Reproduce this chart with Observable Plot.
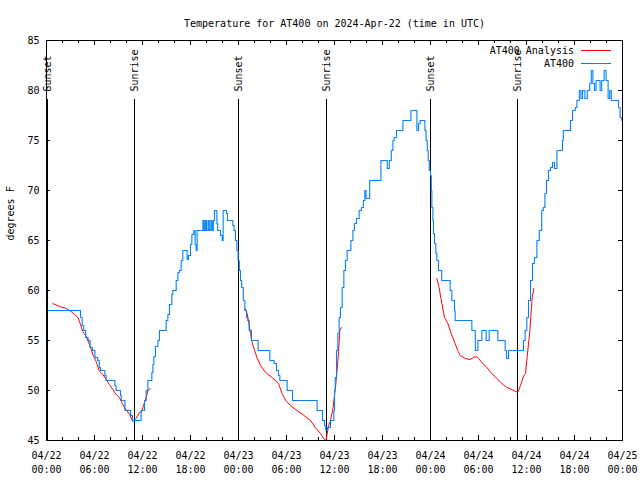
<!DOCTYPE html>
<html><head><meta charset="utf-8">
<script src="https://cdn.jsdelivr.net/npm/d3@7"></script>
<script src="https://cdn.jsdelivr.net/npm/@observablehq/plot@0.6"></script>
<style>body{margin:0;background:#fff} svg{display:block}</style>
</head><body><div id="chart"></div>
<script>
// hours since 2024-04-22 00:00 UTC, degrees F
const titleText = "Temperature for AT400 on 2024-Apr-22 (time in UTC)";
const yLabel = "degrees F";
const yTicks = [45, 50, 55, 60, 65, 70, 75, 80, 85];
const xTickHours = [0, 6, 12, 18, 24, 30, 36, 42, 48, 54, 60, 66, 72];
const xTickLabels = ["04/22\n00:00","04/22\n06:00","04/22\n12:00","04/22\n18:00",
  "04/23\n00:00","04/23\n06:00","04/23\n12:00","04/23\n18:00",
  "04/24\n00:00","04/24\n06:00","04/24\n12:00","04/24\n18:00","04/25\n00:00"];
const xMinorHours = d3.range(0, 73, 2);
const sunTimes = [0.15, 11.0, 24.0, 35.04, 48.0, 58.9];
const sunLabels = ["Sunset","Sunrise","Sunset","Sunrise","Sunset","Sunrise"];
const seriesNames = ["AT400 Analysis", "AT400"];
const seriesColors = ["#ff0000", "#0080ff"];

// AT400 observations [hour, temp]
const at400 = [
[0.17,58],[4.25,57.3],[4.45,56.5],[4.65,56],[4.9,55.3],[5.2,55],[5.45,54.3],[5.75,54],[6.05,53.3],[6.4,53],[6.6,52.3],[6.75,52],[7.3,51.5],[7.45,51],[8.55,50.5],[8.7,50],[9.25,49.5],[9.35,49],[9.8,48],[10.5,47.5],[10.75,47],
[11.83,48],[12.04,48],[12.25,49],[12.46,50],[12.67,51],[13.17,51.8],[13.3,52.6],[13.42,53.4],[13.62,54.4],[13.92,55],[14.12,56],[14.96,57],[15.17,57.6],[15.37,58.6],[15.67,59.6],[15.79,60],[16.21,61],[16.42,61.8],[16.62,62],[16.83,63],[17.04,64],[17.58,63.1],[17.75,63.5],[18.0,64.6],[18.17,65.6],[18.42,66],[18.58,64.6],[18.71,64],[18.83,66],
[19.55,67],[19.7,66],[19.85,67],[20.0,66],[20.2,67],[20.35,66],[20.55,67],[20.7,66],[20.85,67],[21.0,68],[21.3,66.7],[21.4,66],[21.75,65.5],[21.96,65],[22.08,68],[22.5,67.7],[22.62,67],[23.3,66.5],[23.45,66],[23.62,65],[23.8,64],[23.95,63],
[24.1,62],[24.25,61],[24.4,60.3],[24.6,59],[24.8,58],[25.0,57.3],[25.15,57],[25.33,56],[25.62,55],[26.46,54],[27.92,53],[28.45,52.7],[28.75,52],[29.0,51.5],[29.17,51],[30.08,50],[30.75,49],[33.83,48],[34.5,47],[34.75,46.5],[34.92,46],[35.15,46.3],[35.5,47],[35.92,48],[36.0,50],[36.1,51.3],[36.25,54],[36.42,55.7],[36.58,57.3],[36.75,58.3],[36.96,60.3],[37.17,62],[37.37,63],[37.58,64],[38.05,65],[38.3,66],[38.5,66.7],[38.75,67.2],[39.08,68],[39.37,68.3],[39.6,69],[39.79,70],[39.95,69.2],[40.4,71],[41.8,73],[42.6,72.2],[42.85,73],[43.1,74],[43.3,75],[43.45,75.3],[43.75,76],[44.55,77],[45.55,78],[46.3,76],[46.5,76.7],[46.7,77],[47.3,76],[47.45,75],[47.6,74],[47.72,73],[47.85,72],
[48.0,71.5],[48.1,70],[48.17,68.3],[48.3,67],[48.37,65.7],[48.5,64.7],[48.67,63.7],[48.8,63],[49.0,62],[49.4,61],[50.46,60],[50.67,59],[51.0,58],[51.08,57],[53.17,56],[53.6,54],[53.92,55],[54.42,56],[54.95,55],[55.33,56],[56.42,55],[57.33,54],[57.5,53.2],[57.75,54],[59.62,55],[59.83,56],[60.04,57.3],[60.25,59],[60.5,61],[60.75,62.7],[61.0,63.3],[61.3,65],[61.6,66],[61.9,68],[62.1,68.3],[62.3,69.7],[62.5,71],[62.75,72],[63.0,72.3],[63.25,72.8],[63.5,72.2],[63.8,74],[64.5,75],[64.6,76],[65.5,77],[65.75,78],[66.1,78.3],[66.3,79],[66.6,80],[66.8,79.2],[67.0,80],[67.3,79.2],[67.6,80],[67.9,80.7],[68.1,82],[68.3,80.7],[68.5,80],[68.7,81],[69.2,80],[69.4,81],[69.7,82],[69.95,81],[70.2,79.2],[70.4,80],[70.6,79],[71.5,78.3],[71.7,77.3],[71.9,77],[72,77]
];

// AT400 Analysis segments [hour, temp]
const analysis1 = [[0.79,58.7],[1.62,58.4],[2.46,58.2],[3.08,57.9],[3.5,57.6],[3.92,57.3],[4.25,56.6],[4.54,55.9],[4.96,55.4],[5.37,54.6],[5.79,53.6],[6.21,52.9],[6.62,51.9],[7.04,51.6],[7.46,51.1],[7.87,50.6],[8.29,50.1],[8.7,49.6],[9.12,49.3],[9.54,48.6],[9.96,48.1],[10.37,47.6],[10.79,46.9],[11.2,47.2],[11.62,47.8],[11.9,47.9],[12.17,48.6],[12.46,49.3],[12.67,50],[13.0,50.2]];
const analysis2 = [[24.79,58.2],[25.08,57.7],[25.3,56.7],[25.5,55.7],[25.7,54.8],[25.9,54.3],[26.3,53.3],[26.75,52.5],[27.4,51.8],[28.2,51.3],[29.0,50.7],[29.45,49.7],[29.9,49],[30.5,48.5],[31.3,48],[32.2,47.5],[33.0,47],[33.6,46.3],[34.25,45.7],[34.75,45.1],[34.95,45],[35.2,46.3],[35.5,47],[35.83,48.3],[36.17,50.7],[36.46,53.3],[36.67,56],[36.87,56.3]];
const analysis3 = [[48.79,61.2],[49.08,60.3],[49.3,59.2],[49.42,58.7],[49.75,57.3],[50.17,56.7],[50.58,55.7],[51.08,54.7],[51.4,54.0],[51.71,53.5],[52.33,53.2],[52.96,53.1],[53.37,53.3],[53.8,53.4],[54.42,52.8],[55.04,52.3],[55.67,51.7],[56.29,51.2],[56.92,50.7],[57.54,50.3],[58.17,50.1],[58.9,49.8],[59.25,50.5],[59.67,51.5],[59.87,51.7],[60.08,53.3],[60.42,56],[60.71,59.3],[60.92,60.2]];

const W = 640, H = 480, ML = 46, MR = 18, MT = 40, MB = 40;
const FW = W - ML - MR, FH = H - MT - MB;
const xy = {x: d => d[0], y: d => d[1]};

const chart = Plot.plot({
  width: W, height: H,
  marginLeft: ML, marginRight: MR, marginTop: MT, marginBottom: MB,
  style: {fontFamily: "'DejaVu Sans Mono', monospace", fontSize: "10px", background: "#fff", color: "#000", overflow: "visible"},
  x: {domain: [0, 72], axis: null},
  y: {domain: [45, 85], axis: null},
  marks: [
    // y tick labels
    Plot.text(yTicks, {y: d => d, text: d => String(d), frameAnchor: "left", dx: -7, textAnchor: "end", fill: "#000"}),
    // x tick labels
    Plot.text(xTickHours, {x: d => d, text: (d, i) => xTickLabels[i], frameAnchor: "bottom", dy: 8, lineAnchor: "top", lineHeight: 1.45, fill: "#000"}),
    // tick marks (inward, both sides)
    Plot.tickX(xMinorHours, {x: d => d, insetTop: FH - 3, stroke: "#000", shapeRendering: "crispEdges"}),
    Plot.tickX(xMinorHours, {x: d => d, insetBottom: FH - 3, stroke: "#000", shapeRendering: "crispEdges"}),
    Plot.tickX(xTickHours, {x: d => d, insetTop: FH - 5, stroke: "#000", shapeRendering: "crispEdges"}),
    Plot.tickX(xTickHours, {x: d => d, insetBottom: FH - 5, stroke: "#000", shapeRendering: "crispEdges"}),
    Plot.tickY(yTicks, {y: d => d, insetRight: FW - 4, stroke: "#000", shapeRendering: "crispEdges"}),
    Plot.tickY(yTicks, {y: d => d, insetLeft: FW - 4, stroke: "#000", shapeRendering: "crispEdges"}),
    // sunrise / sunset
    Plot.ruleX(sunTimes, {x: d => d, insetTop: 59, stroke: "#000", strokeWidth: 1, shapeRendering: "crispEdges"}),
    Plot.text(sunTimes, {x: d => d, text: (d, i) => sunLabels[i], frameAnchor: "top", dy: 51, rotate: -90, textAnchor: "start", lineAnchor: "middle", fill: "#000"}),
    // series
    Plot.line(analysis1, {...xy, stroke: seriesColors[0], strokeWidth: 1}),
    Plot.line(analysis2, {...xy, stroke: seriesColors[0], strokeWidth: 1}),
    Plot.line(analysis3, {...xy, stroke: seriesColors[0], strokeWidth: 1}),
    Plot.line(at400, {...xy, curve: "step-after", stroke: seriesColors[1], strokeWidth: 1.1}),
    // frame
    Plot.frame({stroke: "#000", shapeRendering: "crispEdges"}),
    // title and axis label
    Plot.text([titleText], {text: d => d, frameAnchor: "top", dy: -21, fill: "#000"}),
    Plot.text([yLabel], {text: d => d, frameAnchor: "left", dx: -36, rotate: -90, fill: "#000"})
  ]
});

// legend (text + line samples)
const svg = d3.select(chart);
seriesNames.forEach((name, i) => {
  const y = 50.5 + i * 13;
  svg.append("text").attr("x", 574).attr("y", y).attr("dy", "0.32em")
    .attr("text-anchor", "end").attr("fill", "#000")
    .attr("font-family", "'DejaVu Sans Mono', monospace").attr("font-size", 10).text(name);
  svg.append("line").attr("x1", 581).attr("x2", 611).attr("y1", y).attr("y2", y)
    .attr("stroke", seriesColors[i]).attr("stroke-width", 1).attr("shape-rendering", "crispEdges");
});
document.getElementById("chart").appendChild(chart);
</script>
</body></html>
